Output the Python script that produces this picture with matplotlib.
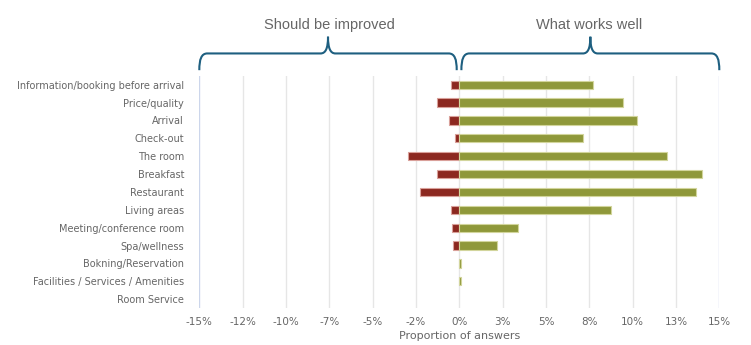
import matplotlib
matplotlib.use("Agg")
import matplotlib.pyplot as plt
from matplotlib.path import Path
from matplotlib.patches import PathPatch
from matplotlib.transforms import blended_transform_factory

categories = [
    "Information/booking before arrival", "Price/quality", "Arrival", "Check-out",
    "The room", "Breakfast", "Restaurant", "Living areas", "Meeting/conference room",
    "Spa/wellness", "Bokning/Reservation", "Facilities / Services / Amenities", "Room Service",
]
# share of answers in percent
improve = [-0.5, -1.27, -0.6, -0.25, -2.95, -1.27, -2.27, -0.5, -0.44, -0.35, 0.0, 0.0, 0.0]
works_well = [7.73, 9.46, 10.23, 7.13, 11.97, 14.01, 13.68, 8.75, 3.38, 2.16, 0.08, 0.12, 0.0]
tick_values = [-15, -12.5, -10, -7.5, -5, -2.5, 0, 2.5, 5, 7.5, 10, 12.5, 15]
tick_labels = ["-15%", "-12%", "-10%", "-7%", "-5%", "-2%", "0%", "3%", "5%", "8%", "10%", "13%", "15%"]

RED, RED_EDGE = "#8c2820", "#d9a09a"
GREEN, GREEN_EDGE = "#8f983a", "#d2d59c"
GREY = "#666666"
BRACE = "#1e5f80"

fig = plt.figure(figsize=(7.51, 3.45), dpi=100)
ax = fig.add_axes([0.2654, 0.1067, 0.6924, 0.6737])

ypos = list(range(len(categories)))
ax.barh(ypos, improve, height=0.46, color=RED, edgecolor=RED_EDGE,
        linewidth=[0.8 if v else 0 for v in improve], zorder=3)
ax.barh(ypos, works_well, height=0.46, color=GREEN, edgecolor=GREEN_EDGE,
        linewidth=[0.8 if v else 0 for v in works_well], zorder=3)

ax.set_xlim(-15, 15)
ax.set_ylim(len(categories) - 0.5, -0.5)
ax.set_xticks(tick_values)
ax.set_xticklabels(tick_labels)
ax.set_yticks(ypos)
ax.set_yticklabels(categories)
ax.tick_params(axis="x", length=0, labelsize=7.5, labelcolor=GREY, pad=6)
ax.tick_params(axis="y", length=0, labelsize=7, labelcolor=GREY, pad=11)

for v in tick_values:
    edge = v in (-15, 15)
    ax.axvline(v, color="#ccd6eb" if edge else "#e6e6e6", lw=1.0, zorder=1)
for s in ax.spines.values():
    s.set_visible(False)

ax.set_xlabel("Proportion of answers", fontsize=8, color=GREY, labelpad=3)


def brace(x0, x1):
    # curly brace over the x-range [x0, x1]; x in data units, y in axes fraction
    mid = (x0 + x1) / 2
    r = 0.46
    c = 0.43
    y_end, y_bar, y_tip = 1.024, 1.096, 1.168
    verts = [
        (x0, y_end), (x0, y_bar - 0.025), (x0 + 0.12, y_bar), (x0 + r, y_bar),
        (mid - c, y_bar),
        (mid - 0.15, y_bar), (mid, y_bar + 0.02), (mid, y_tip),
        (mid, y_bar + 0.02), (mid + 0.15, y_bar), (mid + c, y_bar),
        (x1 - r, y_bar),
        (x1 - 0.12, y_bar), (x1, y_bar - 0.025), (x1, y_end),
    ]
    codes = [Path.MOVETO, Path.CURVE4, Path.CURVE4, Path.CURVE4,
             Path.LINETO,
             Path.CURVE4, Path.CURVE4, Path.CURVE4,
             Path.CURVE4, Path.CURVE4, Path.CURVE4,
             Path.LINETO,
             Path.CURVE4, Path.CURVE4, Path.CURVE4]
    trans = blended_transform_factory(ax.transData, ax.transAxes)
    ax.add_patch(PathPatch(Path(verts, codes), facecolor="none", edgecolor=BRACE,
                           lw=1.5, transform=trans, clip_on=False))


brace(-15, -0.15)
brace(0.12, 15)

trans = blended_transform_factory(ax.transData, ax.transAxes)
ax.text(-7.5, 1.218, "Should be improved", transform=trans, ha="center", va="center",
        fontsize=10.5, color=GREY, family="Liberation Sans")
ax.text(7.5, 1.218, "What works well", transform=trans, ha="center", va="center",
        fontsize=10.5, color=GREY, family="Liberation Sans")

fig.savefig("out.png", dpi=100)
